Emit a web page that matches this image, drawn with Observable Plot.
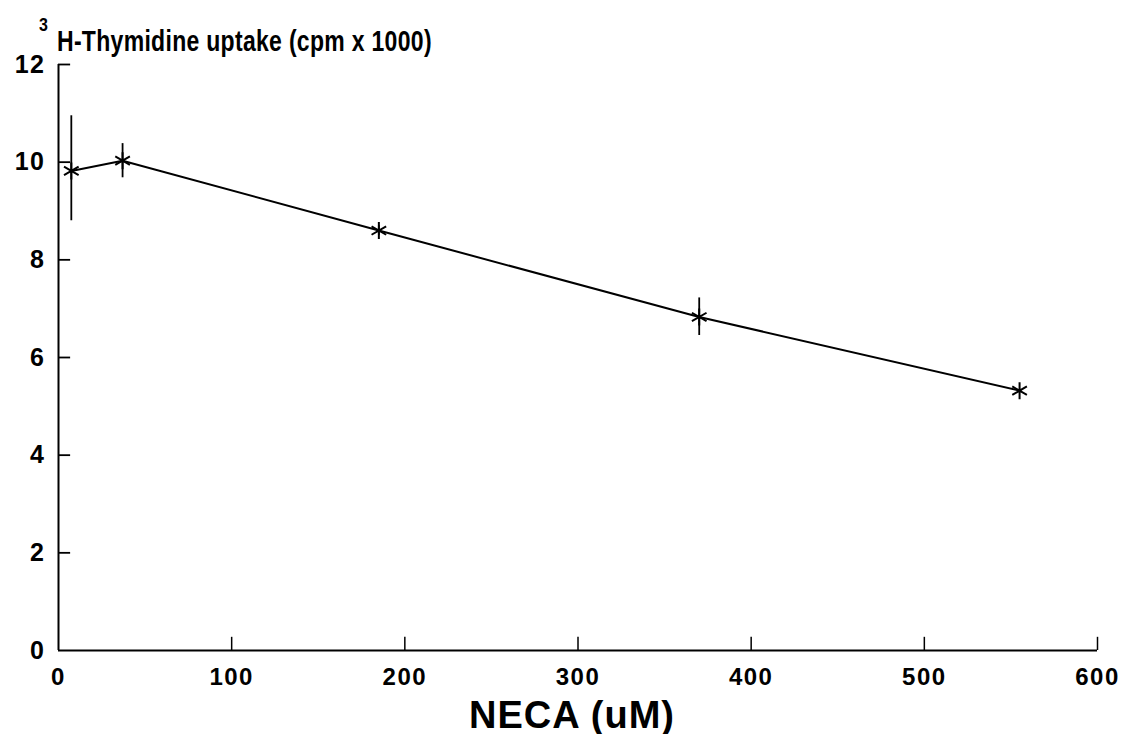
<!DOCTYPE html>
<html>
<head>
<meta charset="utf-8">
<script src="https://cdn.jsdelivr.net/npm/d3@7"></script>
<script src="https://cdn.jsdelivr.net/npm/@observablehq/plot@0.6"></script>
<style>
  body { margin: 0; background: #fff; width: 1126px; height: 734px; overflow: hidden; font-family: "Liberation Sans", Arial, sans-serif; position: relative; }
  #title { height: 58px; position: relative; font-weight: bold; color: #000; }
  #title .t { position: absolute; left: 57px; top: 33px; font-size: 23px; line-height: 23px; white-space: nowrap; transform: scaleY(1.3); transform-origin: 0 100%; letter-spacing: 0.3px; }
  #title .s { position: absolute; left: 39px; top: 19px; font-size: 16px; line-height: 16px; transform: scaleY(1.2); transform-origin: 0 100%; }
  #xlabel { position: absolute; left: 372px; width: 400px; top: 696px; text-align: center; font-weight: bold; font-size: 38px; line-height: 38px; letter-spacing: 1px; }
</style>
</head>
<body>
<div id="title"><span class="s">3</span><span class="t">H-Thymidine uptake (cpm x 1000)</span></div>
<div id="chart"></div>
<div id="xlabel">NECA (uM)</div>
<script>
const neca = [7.4, 37, 185, 370, 555];
const uptake = [9.82, 10.03, 8.6, 6.83, 5.32];
const errLow = [8.8, 9.68, 8.5, 6.45, 5.3];
const errHigh = [10.95, 10.38, 8.7, 7.22, 5.34];
const xTicks = [0, 100, 200, 300, 400, 500, 600];
const yTicks = [0, 2, 4, 6, 8, 10, 12];

const data = neca.map((x, i) => ({x, y: uptake[i], lo: errLow[i], hi: errHigh[i]}));

const chart = Plot.plot({
  width: 1126,
  height: 676,
  marginLeft: 58,
  marginRight: 29,
  marginTop: 6,
  marginBottom: 84,
  style: {fontFamily: "Liberation Sans, Arial, sans-serif", fontWeight: "bold", fontSize: "24px", color: "#000", background: "transparent", letterSpacing: "1.5px", overflow: "visible"},
  x: {domain: [0, 600], ticks: xTicks, label: null},
  y: {domain: [0, 12], ticks: yTicks, label: null},
  marks: [
    Plot.axisX({ticks: xTicks, tickSize: 0, tickPadding: 17, fontSize: 24, fontWeight: "bold", fill: "#000", label: null}),
    Plot.axisY({ticks: yTicks, tickSize: 0, tickPadding: 13, fontSize: 25, fontWeight: "bold", fill: "#000", label: null}),
    Plot.ruleX(xTicks.filter(d => d > 0), {x: d => d, y1: 0, y2: 0.27, stroke: "#000", strokeWidth: 1.5}),
    Plot.ruleY(yTicks.filter(d => d > 0), {y: d => d, x1: 0, x2: 7, stroke: "#000", strokeWidth: 1.8}),
    Plot.ruleY([0], {x1: 0, x2: 600, stroke: "#000", strokeWidth: 2}),
    Plot.ruleX([0], {y1: 0, y2: 12, stroke: "#000", strokeWidth: 2}),
    Plot.ruleX(data, {x: "x", y1: "lo", y2: "hi", stroke: "#000", strokeWidth: 1.8}),
    Plot.line(data, {x: "x", y: "y", stroke: "#000", strokeWidth: 2}),
    Plot.dot(data, {x: "x", y: "y", symbol: "asterisk", r: 8, stroke: "#000", strokeWidth: 2})
  ]
});
document.getElementById("chart").appendChild(chart);
</script>
</body>
</html>
